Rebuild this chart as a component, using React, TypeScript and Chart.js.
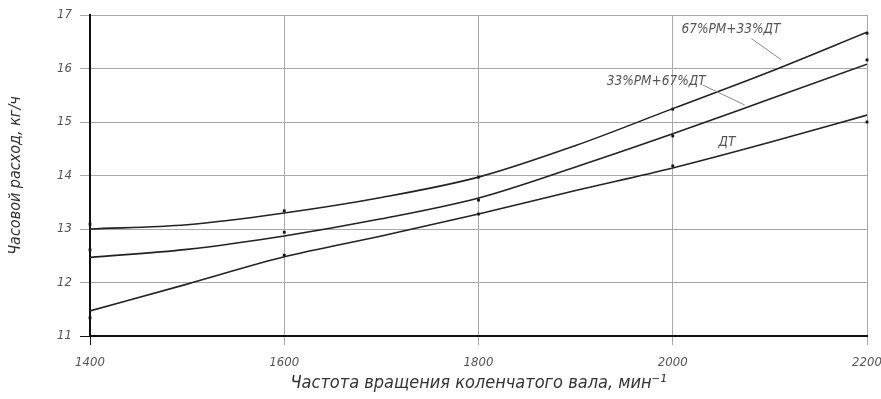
import React, { useEffect, useRef } from "react";
import { Chart, registerables } from "chart.js";

Chart.register(...registerables);

// Crankshaft speed, min^-1
const rpm = [1400, 1500, 1600, 1700, 1800, 1900, 2000, 2100, 2200];
// Fitted fuel-consumption curves, kg/h
const curve67RM = [13.0, 13.08, 13.3, 13.59, 13.97, 14.56, 15.25, 15.94, 16.68];
const curve33RM = [12.47, 12.62, 12.87, 13.19, 13.58, 14.16, 14.78, 15.43, 16.08];
const curveDT = [11.47, 11.97, 12.48, 12.87, 13.28, 13.72, 14.14, 14.62, 15.13];

// Measured points
const measRpm = [1400, 1600, 1800, 2000, 2200];
const meas67RM = [13.09, 13.34, 13.97, 15.24, 16.66];
const meas33RM = [12.61, 12.94, 13.54, 14.74, 16.16];
const measDT = [11.34, 12.51, 13.28, 14.18, 15.0];

const xTicks = [1400, 1600, 1800, 2000, 2200];
const yTicks = [11, 12, 13, 14, 15, 16, 17];

// Curve captions (anchor in data units) and their leader lines
const captions = [
  { text: "67%РМ+33%ДТ", x: 2009, y: 16.72 },
  { text: "33%РМ+67%ДТ", x: 1932, y: 15.75 },
  { text: "ДТ", x: 2047, y: 14.61 },
];
const leaders = [
  { x1: 2081, y1: 16.56, x2: 2112, y2: 16.16 },
  { x1: 2031, y1: 15.69, x2: 2074, y2: 15.32 },
];

const FONT = "'Liberation Sans Narrow', 'DejaVu Sans Condensed', 'Liberation Sans', sans-serif";

const captionPlugin = {
  id: "captions",
  afterDatasetsDraw(chart: any) {
    const { ctx } = chart;
    const xs = chart.scales.x;
    const ys = chart.scales.y;
    ctx.save();
    ctx.strokeStyle = "#8a8a8a";
    ctx.lineWidth = 1;
    leaders.forEach((l) => {
      ctx.beginPath();
      ctx.moveTo(xs.getPixelForValue(l.x1), ys.getPixelForValue(l.y1));
      ctx.lineTo(xs.getPixelForValue(l.x2), ys.getPixelForValue(l.y2));
      ctx.stroke();
    });
    ctx.fillStyle = "#555";
    ctx.font = `italic 13.5px ${FONT}`;
    ctx.textAlign = "left";
    ctx.textBaseline = "middle";
    captions.forEach((c) => {
      ctx.fillText(c.text, xs.getPixelForValue(c.x), ys.getPixelForValue(c.y));
    });
    ctx.restore();
  },
};

const toPoints = (xs: number[], ys: number[]) => xs.map((x, i) => ({ x, y: ys[i] }));

export default function App() {
  const canvasRef = useRef<HTMLCanvasElement | null>(null);

  useEffect(() => {
    if (!canvasRef.current) return;
    const lineStyle = {
      type: "line" as const,
      borderColor: "#222",
      borderWidth: 1.6,
      pointRadius: 0,
      fill: false,
      cubicInterpolationMode: "monotone" as const,
    };
    const dotStyle = {
      type: "scatter" as const,
      backgroundColor: "#111",
      borderColor: "#111",
      pointStyle: "rect" as const,
      pointRadius: 2,
      borderWidth: 0,
      clip: false,
    };
    const chart = new Chart(canvasRef.current, {
      type: "line",
      data: {
        datasets: [
          { ...lineStyle, label: "67%РМ+33%ДТ", data: toPoints(rpm, curve67RM) },
          { ...lineStyle, label: "33%РМ+67%ДТ", data: toPoints(rpm, curve33RM) },
          { ...lineStyle, label: "ДТ", data: toPoints(rpm, curveDT) },
          { ...dotStyle, label: "67%РМ+33%ДТ (эксп.)", data: toPoints(measRpm, meas67RM) },
          { ...dotStyle, label: "33%РМ+67%ДТ (эксп.)", data: toPoints(measRpm, meas33RM) },
          { ...dotStyle, label: "ДТ (эксп.)", data: toPoints(measRpm, measDT) },
        ] as any,
      },
      options: {
        responsive: false,
        animation: false,
        devicePixelRatio: 1,
        layout: { padding: { top: 15, right: 14, left: 0, bottom: 0 } },
        plugins: { legend: { display: false }, tooltip: { enabled: false } },
        scales: {
          x: {
            type: "linear",
            min: 1400,
            max: 2200,
            afterBuildTicks: (s: any) => {
              s.ticks = xTicks.map((v) => ({ value: v }));
            },
            afterFit: (s: any) => {
              s.height = 63;
              s.paddingLeft = 0;
              s.paddingRight = 0;
            },
            grid: {
              color: "#a8a8a8",
              lineWidth: 1,
              tickLength: 9,
              tickColor: (c: any) => (c.tick && c.tick.value === 1400 ? "#111" : "#a8a8a8"),
            },
            border: { display: true, color: "#111", width: 2 },
            ticks: {
              color: "#555",
              padding: 10,
              maxRotation: 0,
              callback: (v: any) => String(v),
              font: { family: FONT, size: 13, style: "italic" },
            },
            title: {
              display: true,
              text: "Частота вращения коленчатого вала, мин⁻¹",
              color: "#333",
              padding: { top: 0, bottom: 5 },
              font: { family: FONT, size: 18, style: "italic" },
            },
          },
          y: {
            type: "linear",
            min: 11,
            max: 17,
            afterBuildTicks: (s: any) => {
              s.ticks = yTicks.map((v) => ({ value: v }));
            },
            afterFit: (s: any) => {
              s.width = 90;
              s.paddingTop = 0;
              s.paddingBottom = 0;
            },
            grid: {
              color: "#a8a8a8",
              lineWidth: 1,
              tickLength: 10,
              tickColor: (c: any) => (c.tick && c.tick.value === 11 ? "#111" : "#a8a8a8"),
            },
            border: { display: true, color: "#111", width: 2 },
            ticks: {
              color: "#555",
              padding: 8,
              callback: (v: any) => String(v),
              font: { family: FONT, size: 13, style: "italic" },
            },
            title: {
              display: true,
              text: "Часовой расход, кг/ч",
              color: "#333",
              padding: { top: 6, bottom: 0 },
              font: { family: FONT, size: 16, style: "italic" },
            },
          },
        },
      },
      plugins: [captionPlugin],
    });
    return () => chart.destroy();
  }, []);

  return (
    <div style={{ position: "absolute", left: 0, top: 0, width: 881, height: 399, background: "#fff" }}>
      <canvas ref={canvasRef} width={881} height={399} style={{ display: "block" }} />
    </div>
  );
}
